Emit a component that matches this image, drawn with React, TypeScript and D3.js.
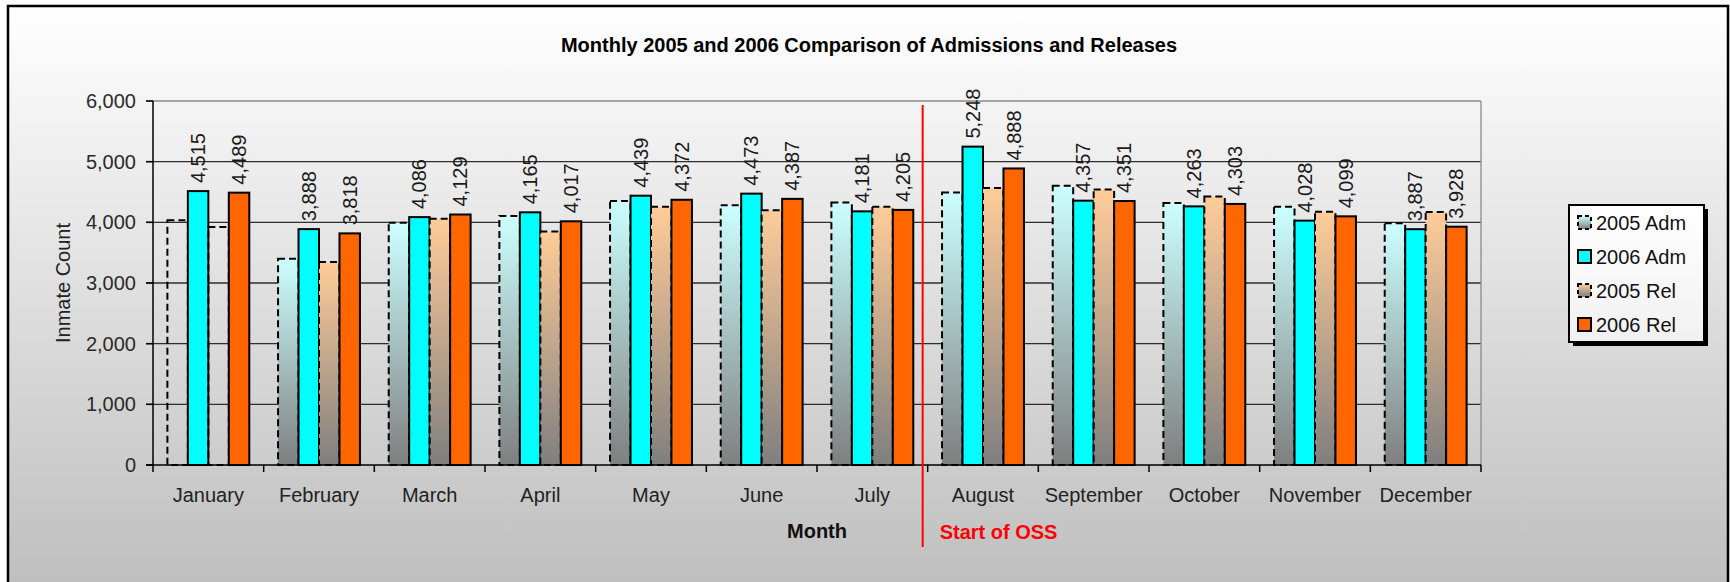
import React, { useRef, useEffect } from 'react';
import * as d3 from 'd3';

const W = 1730;
const H = 582;
const FONT = '"Liberation Sans", Arial, sans-serif';

const months = ['January', 'February', 'March', 'April', 'May', 'June', 'July',
  'August', 'September', 'October', 'November', 'December'];
const seriesNames = ['2005 Adm', '2006 Adm', '2005 Rel', '2006 Rel'];

const adm2005 = [4035, 3400, 3995, 4105, 4350, 4280, 4325, 4490, 4605, 4320, 4255, 3985];
const adm2006 = [4515, 3888, 4086, 4165, 4439, 4473, 4181, 5248, 4357, 4263, 4028, 3887];
const rel2005 = [3925, 3345, 4060, 3850, 4255, 4200, 4255, 4565, 4540, 4425, 4175, 4170];
const rel2006 = [4489, 3818, 4129, 4017, 4372, 4387, 4205, 4888, 4351, 4303, 4099, 3928];

const yTicks = [0, 1000, 2000, 3000, 4000, 5000, 6000];
// the 2005 bars of these months show only their outline in the original
const hollowMonths = ['January'];
const ossMonth = 'August';

const seriesValues = [adm2005, adm2006, rel2005, rel2006];
const labelled = [false, true, false, true];

const App = () => {
  const ref = useRef(null);

  useEffect(() => {
    const svg = d3.select(ref.current);
    svg.selectAll('*').remove();

    const left = 153, right = 1481, top = 101, bottom = 465;

    const defs = svg.append('defs');
    const bg = defs.append('linearGradient').attr('id', 'bg')
      .attr('gradientUnits', 'userSpaceOnUse')
      .attr('x1', 0).attr('x2', 0).attr('y1', 6).attr('y2', H);
    bg.append('stop').attr('offset', 0).attr('stop-color', '#ffffff');
    bg.append('stop').attr('offset', 1).attr('stop-color', '#bfbfbf');

    const gradAdm = defs.append('linearGradient').attr('id', 'gAdm')
      .attr('x1', 0).attr('x2', 0).attr('y1', 0).attr('y2', 1);
    gradAdm.append('stop').attr('offset', 0).attr('stop-color', '#ccffff');
    gradAdm.append('stop').attr('offset', 1).attr('stop-color', '#7f7f7f');
    const gradRel = defs.append('linearGradient').attr('id', 'gRel')
      .attr('x1', 0).attr('x2', 0).attr('y1', 0).attr('y2', 1);
    gradRel.append('stop').attr('offset', 0).attr('stop-color', '#ffcc99');
    gradRel.append('stop').attr('offset', 1).attr('stop-color', '#7f7f7f');

    const fills = ['url(#gAdm)', '#00ffff', 'url(#gRel)', '#ff6600'];
    const dashed = [true, false, true, false];

    // frame
    svg.append('rect')
      .attr('x', 8).attr('y', 6).attr('width', W - 10).attr('height', H + 20)
      .attr('fill', 'url(#bg)').attr('stroke', '#000').attr('stroke-width', 2.5);

    const y = d3.scaleLinear().domain([0, 6000]).range([bottom, top]);
    const x0 = d3.scaleBand().domain(months).range([left, right]);
    const bw = x0.bandwidth();
    const x1 = d3.scaleBand().domain(seriesNames).range([bw * 0.13, bw * 0.87]);

    // title
    svg.append('text')
      .attr('x', 869).attr('y', 52)
      .attr('text-anchor', 'middle')
      .attr('font-family', FONT).attr('font-size', 20).attr('font-weight', 'bold')
      .text('Monthly 2005 and 2006 Comparison of Admissions and Releases');

    // grid
    svg.append('g').selectAll('line')
      .data(yTicks.filter(d => d > 0))
      .enter().append('line')
      .attr('x1', left - 7).attr('x2', right)
      .attr('y1', d => y(d)).attr('y2', d => y(d))
      .attr('stroke', d => d === 6000 ? '#8a8a8a' : '#2e2e2e')
      .attr('stroke-width', 1.4);
    svg.append('line')
      .attr('x1', right).attr('x2', right).attr('y1', top).attr('y2', bottom)
      .attr('stroke', '#8a8a8a').attr('stroke-width', 1.3);

    // bars
    seriesNames.forEach((name, si) => {
      const g = svg.append('g');
      g.selectAll('rect')
        .data(months.map((m, i) => ({ m, v: seriesValues[si][i] })))
        .enter().append('rect')
        .attr('x', d => x0(d.m) + x1(name))
        .attr('y', d => y(d.v))
        .attr('width', x1.bandwidth())
        .attr('height', d => bottom - y(d.v))
        .attr('fill', d => (dashed[si] && hollowMonths.includes(d.m)) ? 'none' : fills[si])
        .attr('stroke', '#000')
        .attr('stroke-width', 2)
        .attr('stroke-dasharray', dashed[si] ? '7,4' : null);
    });

    // axes
    svg.append('line')
      .attr('x1', left).attr('x2', left).attr('y1', top).attr('y2', bottom)
      .attr('stroke', '#000').attr('stroke-width', 1.5);
    svg.append('line')
      .attr('x1', left - 7).attr('x2', right).attr('y1', bottom).attr('y2', bottom)
      .attr('stroke', '#000').attr('stroke-width', 1.5);
    svg.append('g').selectAll('line')
      .data(yTicks)
      .enter().append('line')
      .attr('x1', left - 7).attr('x2', left)
      .attr('y1', d => y(d)).attr('y2', d => y(d))
      .attr('stroke', '#000').attr('stroke-width', 1.5);
    svg.append('g').selectAll('line')
      .data([...months.map(m => x0(m)), right])
      .enter().append('line')
      .attr('x1', d => d).attr('x2', d => d)
      .attr('y1', bottom).attr('y2', bottom + 7)
      .attr('stroke', '#000').attr('stroke-width', 1.5);

    svg.append('g').selectAll('text')
      .data(yTicks)
      .enter().append('text')
      .attr('x', 136).attr('y', d => y(d))
      .attr('dy', '0.35em')
      .attr('text-anchor', 'end')
      .attr('font-family', FONT).attr('font-size', 20).attr('fill', '#2a2a2a')
      .text(d => d3.format(',')(d));

    svg.append('g').selectAll('text')
      .data(months)
      .enter().append('text')
      .attr('x', d => x0(d) + bw / 2).attr('y', 502)
      .attr('text-anchor', 'middle')
      .attr('font-family', FONT).attr('font-size', 20).attr('fill', '#222')
      .text(d => d);

    svg.append('text')
      .attr('transform', `translate(63,${(top + bottom) / 2}) rotate(-90)`)
      .attr('dy', '0.35em')
      .attr('text-anchor', 'middle')
      .attr('font-family', FONT).attr('font-size', 20).attr('fill', '#222')
      .text('Inmate Count');

    svg.append('text')
      .attr('x', 817).attr('y', 538)
      .attr('text-anchor', 'middle')
      .attr('font-family', FONT).attr('font-size', 20).attr('font-weight', 'bold')
      .attr('fill', '#111')
      .text('Month');

    // start of OSS marker
    const ossX = x0(ossMonth) - 5;
    svg.append('line')
      .attr('x1', ossX).attr('x2', ossX).attr('y1', top + 4).attr('y2', 547)
      .attr('stroke', '#ff0000').attr('stroke-width', 2);
    svg.append('text')
      .attr('x', ossX + 17).attr('y', 539)
      .attr('font-family', FONT).attr('font-size', 20).attr('font-weight', 'bold')
      .attr('fill', '#ff0000')
      .text('Start of OSS');

    // value labels
    seriesNames.forEach((name, si) => {
      if (!labelled[si]) return;
      svg.append('g').selectAll('text')
        .data(months.map((m, i) => ({ m, v: seriesValues[si][i] })))
        .enter().append('text')
        .attr('transform', d =>
          `translate(${x0(d.m) + x1(name) + x1.bandwidth() / 2},${y(d.v) - 8}) rotate(-90)`)
        .attr('dy', '0.35em')
        .attr('font-family', FONT).attr('font-size', 20).attr('fill', '#1a1a1a')
        .text(d => d3.format(',')(d.v));
    });

    // legend
    const lg = svg.append('g').attr('transform', 'translate(1569,205)');
    lg.append('rect').attr('x', 4).attr('y', 4).attr('width', 135).attr('height', 137)
      .attr('fill', '#000');
    lg.append('rect').attr('width', 135).attr('height', 137)
      .attr('fill', 'url(#bg)')
      .attr('stroke', '#000').attr('stroke-width', 2);
    const items = lg.selectAll('g.item')
      .data(seriesNames)
      .enter().append('g')
      .attr('transform', (d, i) => `translate(0,${18 + i * 34})`);
    items.append('rect')
      .attr('x', 9).attr('y', -7).attr('width', 13).attr('height', 13)
      .attr('fill', (d, i) => fills[i])
      .attr('stroke', '#000')
      .attr('stroke-width', 2)
      .attr('stroke-dasharray', (d, i) => dashed[i] ? '4,3' : null);
    items.append('text')
      .attr('x', 27).attr('dy', '0.35em')
      .attr('font-family', FONT).attr('font-size', 20).attr('fill', '#111')
      .text(d => d);
  }, []);

  return (
    <svg ref={ref} width={W} height={H}
      style={{ position: 'absolute', left: 0, top: 0, background: '#fff' }} />
  );
};

export default App;
